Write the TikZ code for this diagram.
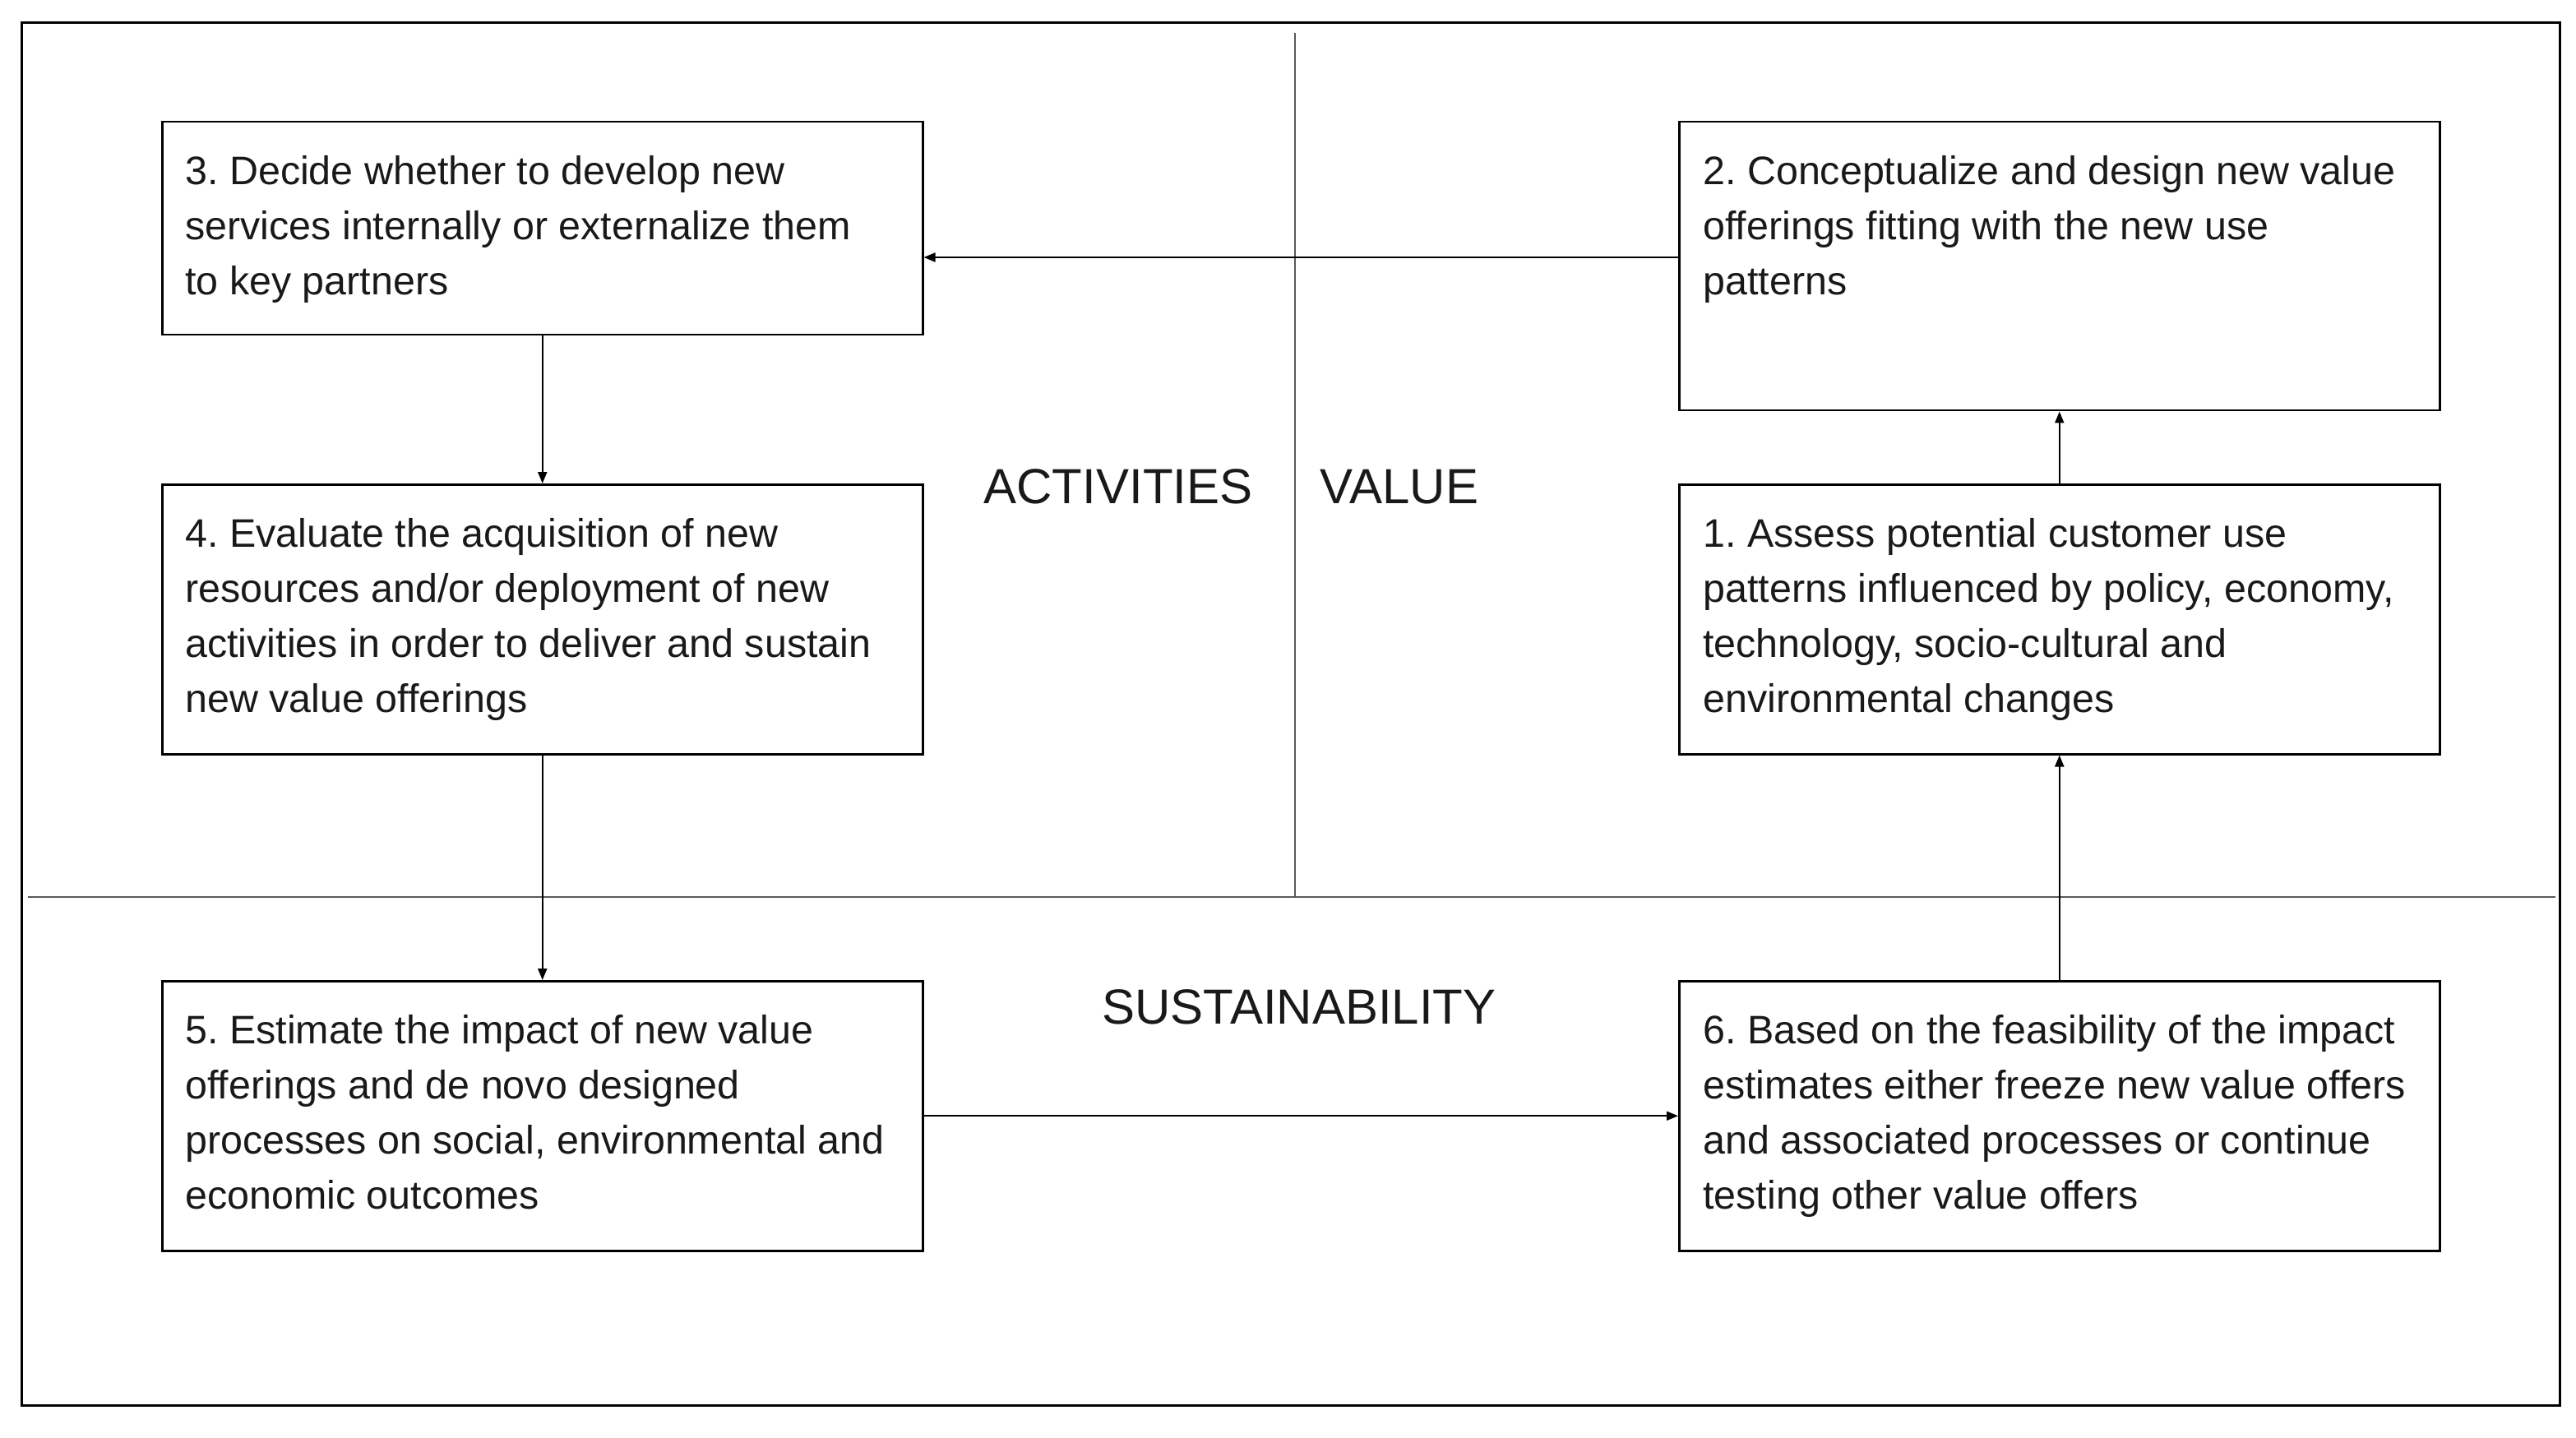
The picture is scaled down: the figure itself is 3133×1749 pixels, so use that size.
\documentclass[tikz,border=0pt]{standalone}
\usepackage{fontspec}
\setmainfont{Liberation Sans}
\usetikzlibrary{arrows.meta}
\frenchspacing
\begin{document}
\begin{tikzpicture}[x=0.5pt,y=-0.5pt,
  box/.style={draw=black, line width=1.25pt, inner sep=0pt, anchor=north west, minimum width=462.5pt},
  txt/.style={anchor=north west, inner sep=0pt, align=left, text=black!90, font=\fontsize{24.2pt}{33.5pt}\selectfont},
  title/.style={anchor=base, inner sep=0pt, text=black!90, font=\fontsize{30pt}{36pt}\selectfont},
  arr/.style={draw=black, line width=1pt, -{Triangle[length=7pt,width=5.5pt]}},
  divider/.style={draw=black!65, line width=1.1pt}]
\useasboundingbox (0,0) rectangle (3133,1749);
% outer frame
\draw[line width=1.5pt] (26,28) rectangle (3113,1709);
% dividers
\coordinate (vtop) at (1575,40);
\coordinate (vbot) at (1575,1091);
\coordinate (hleft) at (34,1091);
\coordinate (hright) at (3108,1091);
\draw[divider] (vtop) -- (vbot);
\draw[divider, line width=1.4pt] (hleft) -- (hright);
% boxes
\node[box, minimum height=129.5pt] (b3) at (196,147) {};
\node[box, minimum height=164pt] (b4) at (196,588) {};
\node[box, minimum height=164pt] (b5) at (196,1192) {};
\node[box, minimum height=175.5pt] (b2) at (2041,147) {};
\node[box, minimum height=164pt] (b1) at (2041,588) {};
\node[box, minimum height=164pt] (b6) at (2041,1192) {};
% texts
\node[txt] (t3) at ([shift={(29,42)}]b3.north west) {3. Decide whether to develop new\\services internally or externalize them\\to key partners};
\node[txt] (t4) at ([shift={(29,42)}]b4.north west) {4. Evaluate the acquisition of new\\resources and/or deployment of new\\activities in order to deliver and sustain\\new value offerings};
\node[txt] (t5) at ([shift={(29,42)}]b5.north west) {5. Estimate the impact of new value\\offerings and de novo designed\\processes on social, environmental and\\economic outcomes};
\node[txt] (t2) at ([shift={(30,42)}]b2.north west) {2. Conceptualize and design new value\\offerings fitting with the new use\\patterns};
\node[txt] (t1) at ([shift={(30,42)}]b1.north west) {1. Assess potential customer use\\patterns influenced by policy, economy,\\technology, socio-cultural and\\environmental changes};
\node[txt] (t6) at ([shift={(30,42)}]b6.north west) {6. Based on the feasibility of the impact\\estimates either freeze new value offers\\and associated processes or continue\\testing other value offers};
% titles
\node[title] (act) at (1360,612) {ACTIVITIES};
\node[title] (val) at (1702,612) {VALUE};
\node[title] (sus) at (1580,1245) {SUSTAINABILITY};
% connectors
\draw[arr] (b2.west |- 0,313) -- (b3.east |- 0,313);
\draw[arr] (b3.south) -- (b4.north);
\draw[arr] (b4.south) -- (b5.north);
\draw[arr] (b5.east) -- (b6.west);
\draw[arr] (b6.north) -- (b1.south);
\draw[arr] (b1.north) -- (b2.south);
\end{tikzpicture}
\end{document}
